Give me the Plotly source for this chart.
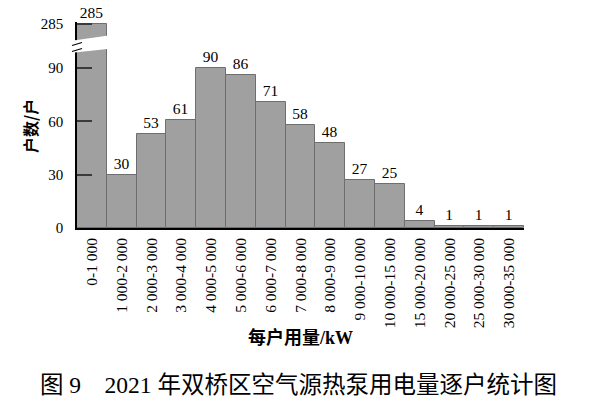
import plotly.graph_objects as go

categories = ["0-1 000", "1 000-2 000", "2 000-3 000", "3 000-4 000", "4 000-5 000",
              "5 000-6 000", "6 000-7 000", "7 000-8 000", "8 000-9 000", "9 000-10 000",
              "10 000-15 000", "15 000-20 000", "20 000-25 000", "25 000-30 000", "30 000-35 000"]
households = [285, 30, 53, 61, 90, 86, 71, 58, 48, 27, 25, 4, 1, 1, 1]
lower_ticks = [0, 30, 60, 90]
upper_ticks = [285]

W, H = 600, 398
L, R, T, B = 77, 76, 22, 170
plot_h = H - T - B
plot_w = W - L - R

def py(px):  # pixel y -> paper y
    return 1 - (px - T) / plot_h

def pxx(px):  # pixel x -> paper x
    return (px - L) / plot_w

serif = "Liberation Serif, Times New Roman, Noto Sans CJK SC, serif"
cjk = "Noto Sans CJK SC, sans-serif"
fill = "#a0a0a0"
edge = "#6e6e6e"

fig = go.Figure()
lower_text = ["" if v > lower_ticks[-1] else str(v) for v in households]
fig.add_trace(go.Bar(x=categories, y=households, text=lower_text, textposition="outside",
                     cliponaxis=False,
                     textfont=dict(family=serif, size=15.5, color="black"),
                     marker=dict(color=fill, line=dict(color=edge, width=1)),
                     xaxis="x", yaxis="y", showlegend=False))
fig.add_trace(go.Bar(x=categories[:1], y=households[:1], text=[str(households[0])],
                     textposition="outside", cliponaxis=False,
                     textfont=dict(family=serif, size=15.5, color="black"),
                     marker=dict(color=fill, line=dict(color=edge, width=1)),
                     xaxis="x2", yaxis="y2", showlegend=False))

scale = 1.778
lower_top = (228 - 48) / scale
upper_top = 285 + 2 / scale
upper_bot = upper_top - 19 / scale

ytickfont = dict(family=serif, size=15, color="black")

fig.update_layout(
    width=W, height=H,
    margin=dict(l=L, r=R, t=T, b=B),
    paper_bgcolor="white", plot_bgcolor="white",
    bargap=0,
    xaxis=dict(domain=[0, 1], anchor="y", type="category", categoryorder="array",
               categoryarray=categories, showline=True, linecolor="black", linewidth=1.5,
               ticks="", tickangle=-90, showgrid=False, automargin=False,
               ticklabelstandoff=2,
               tickfont=dict(family=serif, size=15.5, color="black"),
               range=[-0.5, len(categories) - 0.5]),
    yaxis=dict(domain=[0, py(48)], anchor="x", range=[0, lower_top], tickvals=lower_ticks,
               showline=True, linecolor="black", linewidth=1.5, showgrid=False, zeroline=False,
               ticks="inside", ticklen=15, tickwidth=2, tickcolor="#3a3a3a", automargin=False,
               ticklabelstandoff=9, tickfont=ytickfont),
    xaxis2=dict(domain=[0, 1], anchor="y2", type="category", categoryorder="array",
                categoryarray=categories, visible=False, matches="x",
                range=[-0.5, len(categories) - 0.5]),
    yaxis2=dict(domain=[py(41), 1], anchor="x2", range=[upper_bot, upper_top],
                tickvals=upper_ticks, showline=True, linecolor="black", linewidth=1.5,
                showgrid=False, zeroline=False, automargin=False,
                ticks="inside", ticklen=15, tickwidth=2, tickcolor="#3a3a3a",
                ticklabelstandoff=9, tickfont=ytickfont),
    shapes=[
        dict(type="path", xref="paper", yref="paper", layer="above",
             path=f"M {pxx(70)} {py(41)} L {pxx(112)} {py(35)} L {pxx(112)} {py(48.5)} L {pxx(70)} {py(53)} Z",
             fillcolor="white", line=dict(width=0)),
        dict(type="line", xref="paper", yref="paper", layer="above",
             x0=pxx(72), y0=py(45.5), x1=pxx(82), y1=py(42.5), line=dict(color="black", width=1.2)),
        dict(type="line", xref="paper", yref="paper", layer="above",
             x0=pxx(72), y0=py(51.5), x1=pxx(82), y1=py(48.5), line=dict(color="black", width=1.2)),
    ],
    annotations=[
        dict(text="<b>户数/户</b>", xref="paper", yref="paper", x=pxx(30), y=py(126), textangle=-90,
             showarrow=False, font=dict(family=cjk, size=16, color="black"),
             xanchor="center", yanchor="middle"),
        dict(text="<b>每户用量/kW</b>", xref="paper", yref="paper", x=pxx(300), y=py(337),
             showarrow=False, font=dict(family="Liberation Serif, Noto Sans CJK SC", size=18, color="black"),
             xanchor="center", yanchor="middle"),
        dict(text="图 9\u30002021 年双桥区空气源热泵用电量逐户统计图", xref="paper", yref="paper",
             x=pxx(298), y=py(385), showarrow=False,
             font=dict(family=serif, size=23.5, color="black"),
             xanchor="center", yanchor="middle"),
    ],
)

fig.write_html("out.html", config={"displayModeBar": False},
               post_script="document.body.style.margin='0';document.body.style.padding='0';")
